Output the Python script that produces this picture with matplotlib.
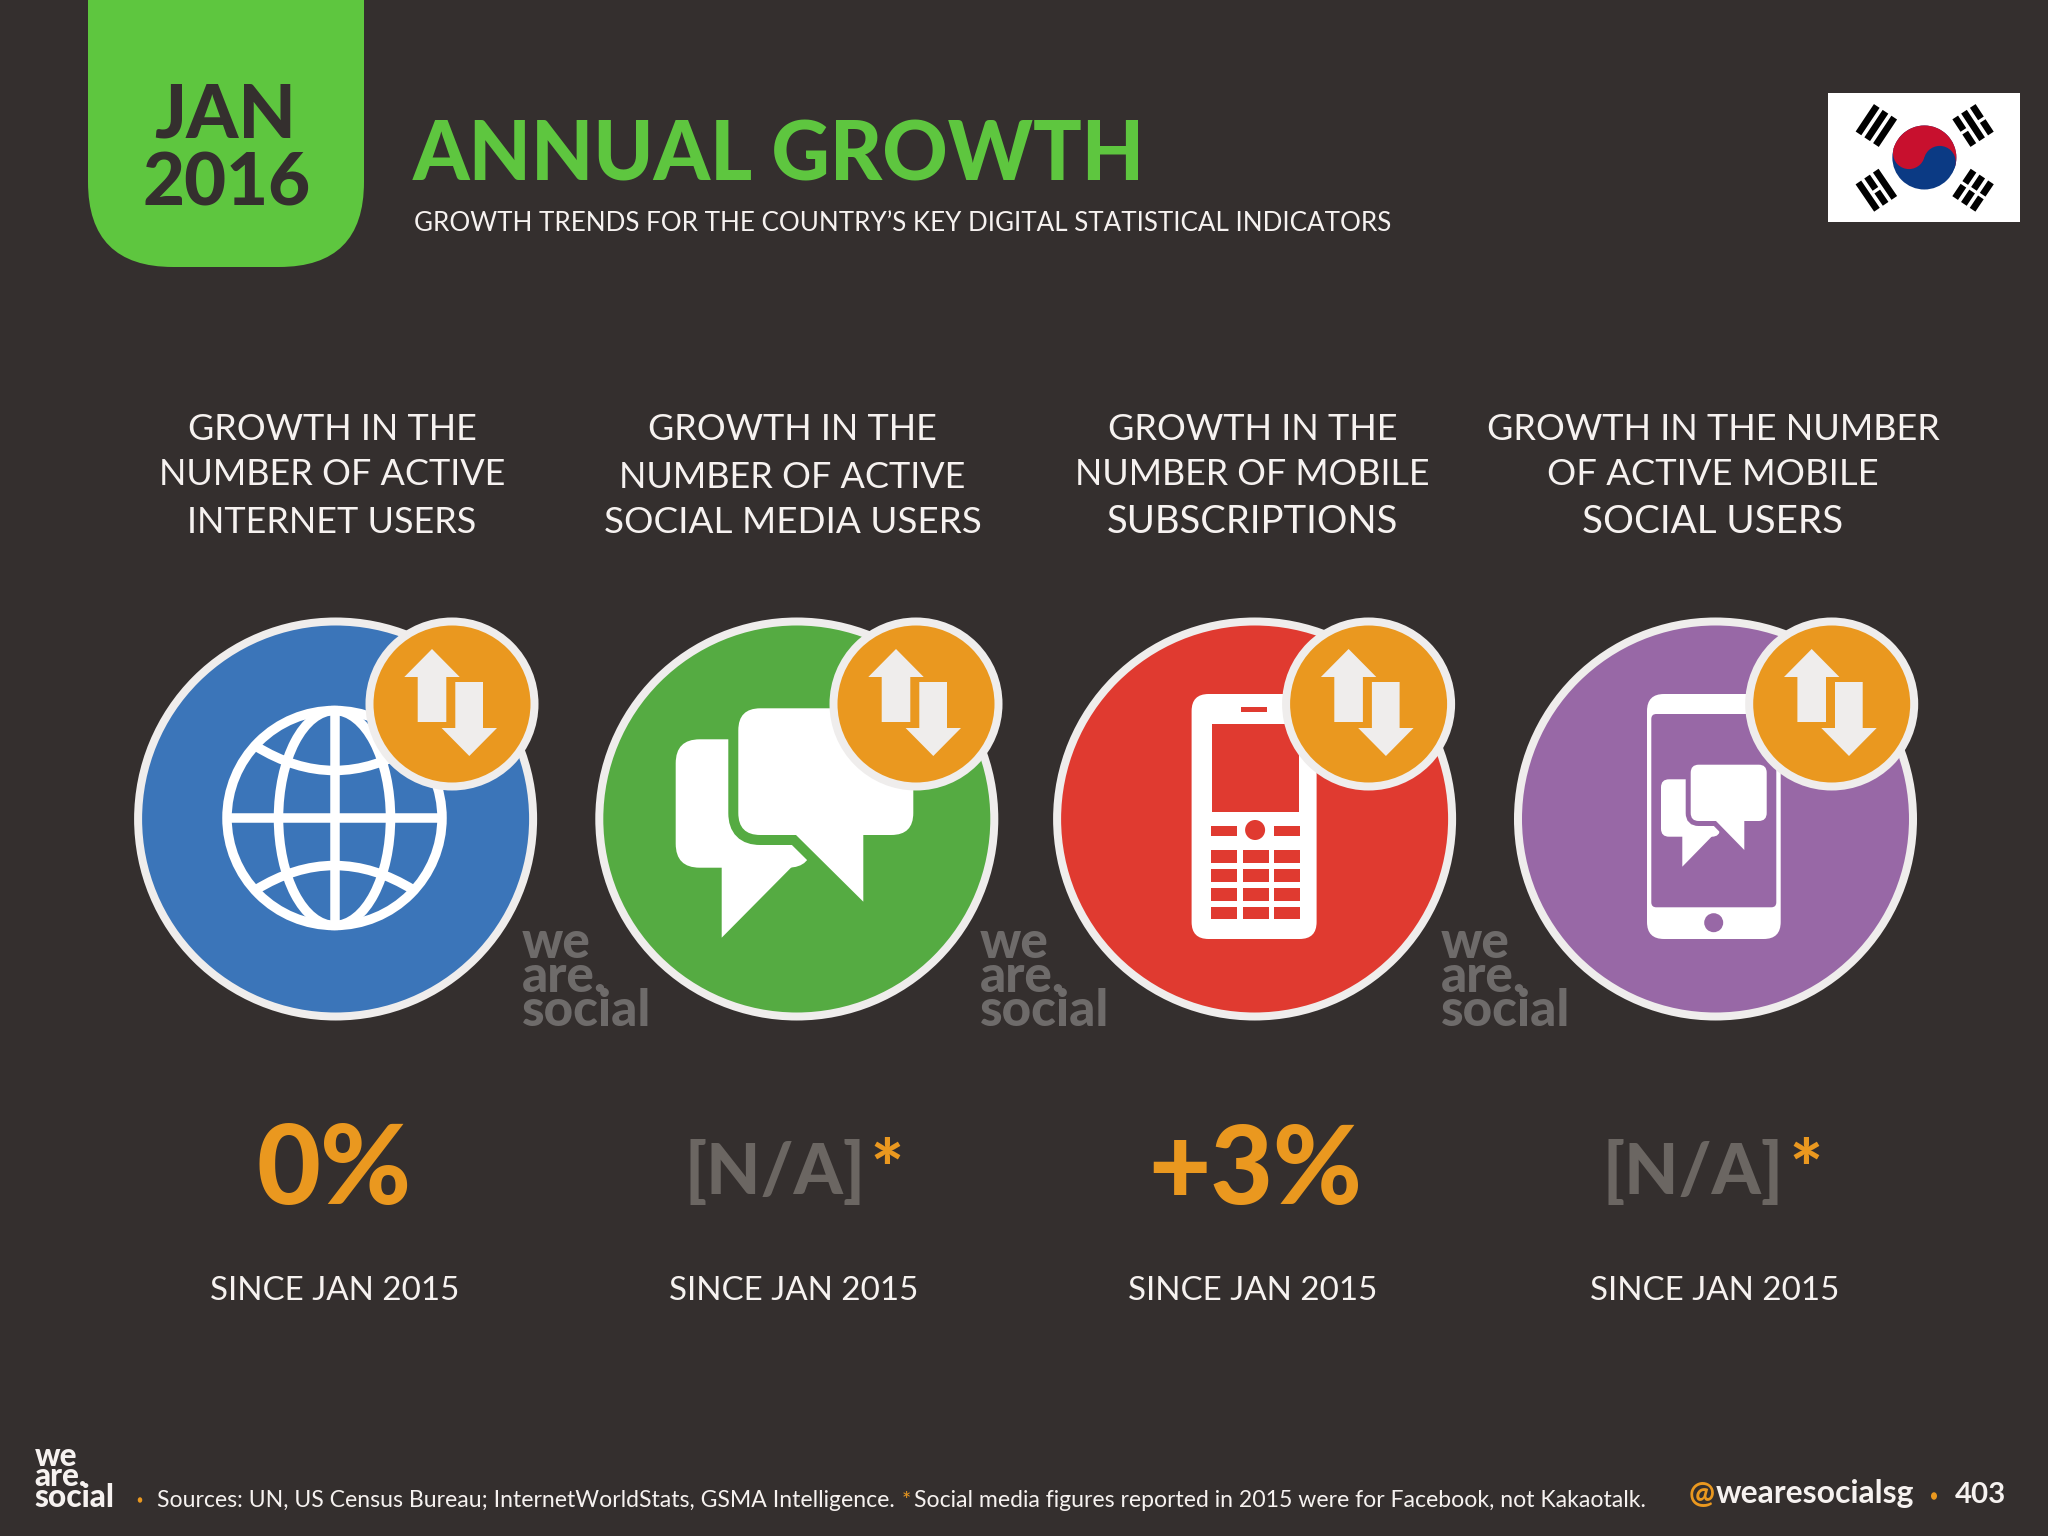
import matplotlib
matplotlib.use('Agg')
import matplotlib.pyplot as plt
from matplotlib.patches import Circle, Ellipse, FancyBboxPatch, PathPatch, Polygon, Rectangle
from matplotlib.path import Path
import numpy as np

# chart content
tab_lines = ['JAN', '2016']
title = 'ANNUAL GROWTH'
subtitle = "GROWTH TRENDS FOR THE COUNTRY’S KEY DIGITAL STATISTICAL INDICATORS"
column_titles = [
    ['GROWTH IN THE', 'NUMBER OF ACTIVE', 'INTERNET USERS'],
    ['GROWTH IN THE', 'NUMBER OF ACTIVE', 'SOCIAL MEDIA USERS'],
    ['GROWTH IN THE', 'NUMBER OF MOBILE', 'SUBSCRIPTIONS'],
    ['GROWTH IN THE NUMBER', 'OF ACTIVE MOBILE', 'SOCIAL USERS'],
]
growth_values = ['0%', '[N/A]', '+3%', '[N/A]']
since_label = 'SINCE JAN 2015'
sources = 'Sources: UN, US Census Bureau; InternetWorldStats, GSMA Intelligence.'
footnote = 'Social media figures reported in 2015 were for Facebook, not Kakaotalk.'
handle = 'wearesocialsg'
page_number = '403'

BG = '#342f2e'
RING = '#efedec'
ORANGE = '#ea981f'
GREEN = '#5ec63f'
TEXT = '#f6f2f0'
GREY = '#6b6662'
LOGO_GREY = '#6e6b6a'
circle_colors = ['#3b75b9', '#55ab42', '#e03a30', '#9868a6']

PX = 0.72  # points per pixel at dpi 100

fig = plt.figure(figsize=(20.48, 15.36), dpi=100, facecolor=BG)
ax = fig.add_axes([0, 0, 1, 1])
ax.set_xlim(0, 2048)
ax.set_ylim(1536, 0)
ax.axis('off')
renderer = fig.canvas.get_renderer()


def put(x, y, s, size, color=TEXT, weight='normal', ha='left', width=None, **kw):
    t = ax.text(x, y, s, fontsize=size, color=color, fontweight=weight, ha=ha,
                va='baseline', family='Lato', **kw)
    # scale the font so that the string covers the width seen in the picture
    if width is not None:
        t.set_fontsize(size * width / t.get_window_extent(renderer).width)
    return t


def logo(x, y_social, size, color, width):
    put(x, y_social, 'we\nare.\nsocial', size, color, 'black', width=width,
        linespacing=0.66, multialignment='left')


def round_box(x0, y0, x1, y1, r, color, **kw):
    ax.add_patch(FancyBboxPatch((x0, y0), x1 - x0, y1 - y0,
                                boxstyle=f'round,pad=0,rounding_size={r}',
                                fc=color, ec='none', **kw))


def bubble(x0, y0, x1, y1, r, tail, color, outline=None, gap=0):
    if outline is not None:
        ax.add_patch(FancyBboxPatch((x0, y0), x1 - x0, y1 - y0,
                                    boxstyle=f'round,pad=0,rounding_size={r}',
                                    fc=outline, ec=outline, lw=2 * gap * PX))
        ax.add_patch(Polygon(tail, fc=outline, ec=outline, lw=2 * gap * PX))
    round_box(x0, y0, x1, y1, r, color)
    ax.add_patch(Polygon(tail, fc=color, ec='none'))


def badge(cx, cy):
    ax.add_patch(Circle((cx, cy), 82.5, fc=ORANGE, ec=RING, lw=8 * PX))
    up = [(-20, -55), (7.7, -27), (-5.7, -27), (-5.7, 18), (-34.3, 18), (-34.3, -27), (-47.7, -27)]
    down = [(17.3, 52), (45, 24), (31, 24), (31, -22), (3.3, -22), (3.3, 24), (-10.4, 24)]
    ax.add_patch(Polygon([(cx + a, cy + b) for a, b in up], fc=RING, ec='none'))
    ax.add_patch(Polygon([(cx + a, cy + b) for a, b in down], fc=RING, ec='none'))


def globe(cx, cy):
    lw = 9.5 * PX
    ax.add_patch(Circle((cx, cy), 107.5, fc='none', ec='white', lw=lw))
    ax.add_patch(Ellipse((cx, cy), 112, 215, fc='none', ec='white', lw=lw))
    ax.plot([cx, cx], [cy - 107, cy + 107], color='white', lw=lw, solid_capstyle='butt')
    ax.plot([cx - 107, cx + 107], [cy, cy], color='white', lw=lw, solid_capstyle='butt')
    for sign in (-1, 1):
        verts = [(cx - 79, cy + sign * 72), (cx, cy + sign * 23), (cx + 79, cy + sign * 72)]
        ax.add_patch(PathPatch(Path(verts, [Path.MOVETO, Path.CURVE3, Path.CURVE3]),
                               fc='none', ec='white', lw=lw))


def feature_phone(cx, color):
    round_box(cx - 63, 694, cx + 62, 939, 17, 'white')
    ax.add_patch(Rectangle((cx - 14, 707), 26, 5, fc=color, ec='none'))
    ax.add_patch(Rectangle((cx - 43, 724), 87.5, 88, fc=color, ec='none'))
    ax.add_patch(Rectangle((cx - 44, 826), 26, 10, fc=color, ec='none'))
    ax.add_patch(Rectangle((cx + 19.5, 826), 26, 10, fc=color, ec='none'))
    ax.add_patch(Ellipse((cx + 0.5, 830), 20, 20, fc=color, ec='none'))
    for top in (850, 869, 888, 906.7):
        for left in (-44, -12, 19.5):
            ax.add_patch(Rectangle((cx + left, top), 26, 12.7, fc=color, ec='none'))


def flag(x0, y0, x1, y1):
    ax.add_patch(Rectangle((x0, y0), x1 - x0, y1 - y0, fc='white', ec='none'))
    cx, cy, r = (x0 + x1) / 2 + 0.2, (y0 + y1) / 2, 32
    tilt = np.radians(16)
    t = np.linspace(0, np.pi, 80)
    # blue disc, red half above the tilted axis, then the two small lobes
    ax.add_patch(Circle((cx, cy), r, fc='#0b3a84', ec='none'))
    half = np.column_stack([cx + r * np.cos(-t + tilt), cy + r * np.sin(-t + tilt)])
    ax.add_patch(Polygon(half, fc='#c8102e', ec='none'))
    dx, dy = r / 2 * np.cos(tilt), r / 2 * np.sin(tilt)
    ax.add_patch(Circle((cx - dx, cy - dy), r / 2, fc='#c8102e', ec='none'))
    ax.add_patch(Circle((cx + dx, cy + dy), r / 2, fc='#0b3a84', ec='none'))
    # trigrams: inner, middle and outer bar, True means broken
    groups = [((-48, -32), (False, False, False)),
              ((48.7, -32), (True, False, True)),
              ((-48, 32.7), (False, True, False)),
              ((48.7, 32.7), (True, True, True))]
    for (ox, oy), broken in groups:
        n = np.hypot(ox, oy)
        u = np.array([ox, oy]) / n
        v = np.array([-u[1], u[0]])
        mid = np.array([cx + ox, cy + oy])
        for k, split in zip((-1, 0, 1), broken):
            c = mid + k * 10.5 * u
            spans = [(-16.5, -1.6), (1.6, 16.5)] if split else [(-16.5, 16.5)]
            for a, b in spans:
                pts = [c + a * v - 3.4 * u, c + b * v - 3.4 * u,
                       c + b * v + 3.4 * u, c + a * v + 3.4 * u]
                ax.add_patch(Polygon(pts, fc='black', ec='none'))


# header
ax.add_patch(FancyBboxPatch((88, -90), 276, 357, boxstyle='round,pad=0,rounding_size=85',
                            fc=GREEN, ec='none'))
put(225, 137, tab_lines[0], 48, BG, 'black', 'center', width=142)
put(226.5, 205, tab_lines[1], 48, BG, 'black', 'center', width=168)
put(413, 180.7, title, 60, GREEN, 'black', width=733)
put(414, 230.7, subtitle, 20, TEXT, 'normal', width=977)
flag(1828.3, 92.7, 2020, 222.3)

# columns
big_x = [335.6, 796.8, 1254.6, 1715.5]
badge_x = [452, 916, 1368.6, 1831.7]
title_x = [332, 792.4, 1252.5, 1713]
line_base = [440, 485, 533.3]
line_widths = [[288.7, 346, 289], [288.7, 346, 378], [290, 355, 291], [453, 331, 261]]
since_x = [334.4, 793.5, 1253, 1715]
big_y, badge_y = 819, 704

for i, lines in enumerate(column_titles):
    for j, line in enumerate(lines):
        y = line_base[j] + (2.7 if i == 1 and j == 1 else 0)
        put(title_x[i], y, line, 28, TEXT, 'normal', 'center', width=line_widths[i][j])
    ax.add_patch(Circle((big_x[i], big_y), 197.5, fc=circle_colors[i], ec=RING, lw=8 * PX))
    put(since_x[i], 1300, since_label, 23, TEXT, 'normal', 'center', width=250)

globe(334.5, 818)

# chat bubbles, second circle
bubble(675.7, 739.3, 811.7, 867.7, 24, [(721.7, 867), (721.7, 937.7), (791.7, 867)], 'white')
bubble(738.3, 708.3, 913.3, 835, 22, [(795, 834), (863.3, 901.7), (863.3, 834)], 'white',
       circle_colors[1], 10)

feature_phone(1254.6, circle_colors[2])

# smartphone with small bubbles, fourth circle
round_box(1647, 694, 1780.7, 939, 17, 'white')
round_box(1651.3, 714, 1776.3, 907.3, 5, circle_colors[3])
ax.add_patch(Circle((1713.7, 922.7), 9.5, fc=circle_colors[3], ec='none'))
bubble(1661, 779.3, 1720, 836.7, 8, [(1682.3, 836), (1682.3, 866.7), (1712.3, 836)], 'white')
bubble(1690.7, 764.7, 1766.7, 821, 8, [(1715, 820), (1744.3, 850), (1744.3, 820)], 'white',
       circle_colors[3], 5)

for bx in badge_x:
    badge(bx, badge_y)

logo(522, 1026, 31, LOGO_GREY, 129)
logo(980, 1026, 31, LOGO_GREY, 129)
logo(1440.7, 1026, 31, LOGO_GREY, 129)

# growth figures
put(334.3, 1204, growth_values[0], 70, ORANGE, 'black', 'center', width=155)
put(684, 1194, growth_values[1], 50, GREY, 'black', width=181)
put(870, 1196, '*', 50, ORANGE, 'black', width=33)
put(1255.5, 1204, growth_values[2], 70, ORANGE, 'black', 'center', width=214)
put(1602, 1194, growth_values[3], 50, GREY, 'black', width=181)
put(1789, 1196, '*', 50, ORANGE, 'black', width=33)

# footer
logo(34.6, 1507.3, 18, TEXT, 80)
ax.add_patch(Ellipse((140, 1500), 4.5, 5.5, fc=ORANGE, ec='none'))
put(157, 1507, sources, 15.5, TEXT, 'normal', width=738)
put(902, 1507, '*', 15.5, ORANGE, 'normal')
put(913.7, 1507, footnote, 15.5, TEXT, 'normal', width=732)
put(1689, 1503, '@', 19, ORANGE, 'bold', width=26)
put(1716, 1503, handle, 19, TEXT, 'bold', width=198)
ax.add_patch(Ellipse((1934, 1496), 6, 7.5, fc=ORANGE, ec='none'))
put(1955, 1503, page_number, 19, TEXT, 'bold', width=51)

fig.savefig('out.png', dpi=100, facecolor=BG)
